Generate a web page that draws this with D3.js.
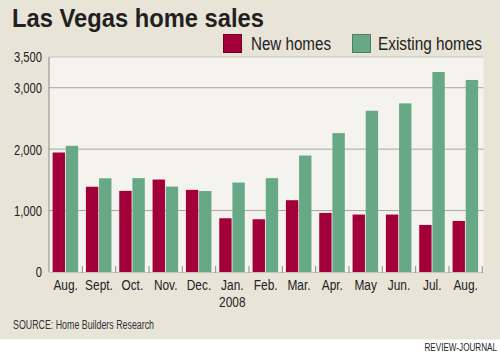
<!DOCTYPE html>
<html><head><meta charset="utf-8">
<script src="https://cdn.jsdelivr.net/npm/d3@7"></script>
<style>body{margin:0;background:#fff}svg{display:block}</style>
</head><body>
<svg id="c" width="500" height="357"></svg>
<script>
const months = ["Aug.","Sept.","Oct.","Nov.","Dec.","Jan.","Feb.","Mar.","Apr.","May","Jun.","Jul.","Aug."];
const newHomes = [1945,1388,1321,1505,1337,875,859,1169,962,935,935,766,831];
const existingHomes = [2054,1525,1528,1391,1318,1456,1528,1896,2261,2625,2745,3256,3126];
const yTicks = [0,1000,2000,3000,3500];
const seriesNames = ["New homes","Existing homes"];
const colors = ["#a3003a","#67a886"];

const svg = d3.select("#c");
const font = "'Liberation Sans',Arial,sans-serif";
const sx = 0.82; // horizontal condensing of text
svg.append("rect").attr("x",0).attr("y",0).attr("width",500).attr("height",339.5).attr("fill","#e8e4d8");

const L=49,R=482.3,T=57,B=272;
const x = d3.scaleBand().domain(d3.range(months.length)).range([L,R]).paddingInner(0).paddingOuter(0);
const y = d3.scaleLinear().domain([0,3500]).range([B,T]);
const xs = d3.scaleBand().domain([0,1]).range([3.6, x.bandwidth()-4.2]).paddingInner(0.06);

svg.append("rect").attr("x",L).attr("y",T).attr("width",483.5-L).attr("height",B-T).attr("fill","#f5f3ee");

// grid
svg.append("g").selectAll("line").data(yTicks.filter(d=>d>0)).join("line")
  .attr("x1",L).attr("x2",483.5).attr("y1",d=>y(d)).attr("y2",d=>y(d))
  .attr("stroke",d=>d===3500?"#c8c4ba":"#aaa69e").attr("stroke-width",1);

// bars
const g = svg.append("g");
months.forEach((m,i)=>{
  [newHomes[i],existingHomes[i]].forEach((v,j)=>{
    g.append("rect").attr("x",x(i)+xs(j)).attr("width",xs.bandwidth())
      .attr("y",y(v)).attr("height",B-y(v)).attr("fill",colors[j]);
  });
});

// axes
svg.append("line").attr("x1",L).attr("x2",L).attr("y1",T).attr("y2",B).attr("stroke","#8f8b84").attr("stroke-width",1);
svg.append("line").attr("x1",L).attr("x2",R).attr("y1",B+0.5).attr("y2",B+0.5).attr("stroke","#c8c4ba").attr("stroke-width",1);
svg.append("g").selectAll("line").data(d3.range(1,months.length+1)).join("line")
  .attr("x1",i=>L+i*x.step()).attr("x2",i=>L+i*x.step()).attr("y1",B-6).attr("y2",B+1)
  .attr("stroke","#8f8b84").attr("stroke-width",1);

const yAxis = d3.axisLeft(y).tickValues(yTicks).tickSize(0).tickPadding(0).tickFormat(d3.format(","));
const ya = svg.append("g").attr("transform",`translate(${L},0)`).call(yAxis);
ya.select(".domain").remove();
ya.selectAll("text").attr("font-family",font).attr("font-size",14).attr("fill","#222").attr("dy","0.35em")
  .attr("x",-7/0.8).attr("transform","scale(0.8,1)");

const xAxis = d3.axisBottom(x).tickSize(0).tickPadding(0).tickFormat(i=>months[i]);
const xa = svg.append("g").attr("transform",`translate(0,${B})`).call(xAxis);
xa.select(".domain").remove();
xa.selectAll("text").attr("font-family",font).attr("font-size",14.5).attr("fill","#222")
  .attr("y",18).attr("dy",null).attr("transform",`scale(${sx},1)`);
svg.append("text").attr("transform",`translate(${x(5)+x.bandwidth()/2},307) scale(${sx},1)`).attr("text-anchor","middle")
  .attr("font-family",font).attr("font-size",14.5).attr("fill","#222").text("2008");

// title
svg.append("text").attr("x",12).attr("y",27).attr("font-family",font)
  .attr("font-weight","bold").attr("font-size",26).attr("fill","#231f20")
  .attr("textLength",252).attr("lengthAdjust","spacingAndGlyphs").text("Las Vegas home sales");

// legend
const leg = [{x:223,tx:251,w:80},{x:352,tx:378,w:104}];
seriesNames.forEach((n,j)=>{
  svg.append("rect").attr("x",leg[j].x+0.5).attr("y",34.5).attr("width",18).attr("height",18)
    .attr("fill",colors[j]).attr("stroke",j?"#4d7d63":"#6e0026").attr("stroke-width",1);
  svg.append("text").attr("x",leg[j].tx).attr("y",50).attr("font-family",font).attr("font-size",18)
    .attr("fill","#222").attr("textLength",leg[j].w).attr("lengthAdjust","spacingAndGlyphs").text(n);
});

svg.append("text").attr("x",13).attr("y",328.5).attr("font-family",font).attr("font-size",12.5)
  .attr("fill","#333").attr("textLength",141).attr("lengthAdjust","spacingAndGlyphs").text("SOURCE: Home Builders Research");
svg.append("text").attr("transform","translate(497,351) scale(0.74,1)").attr("text-anchor","end").attr("font-family",font).attr("font-size",11)
  .attr("fill","#222").text("REVIEW-JOURNAL");
</script>
</body></html>
